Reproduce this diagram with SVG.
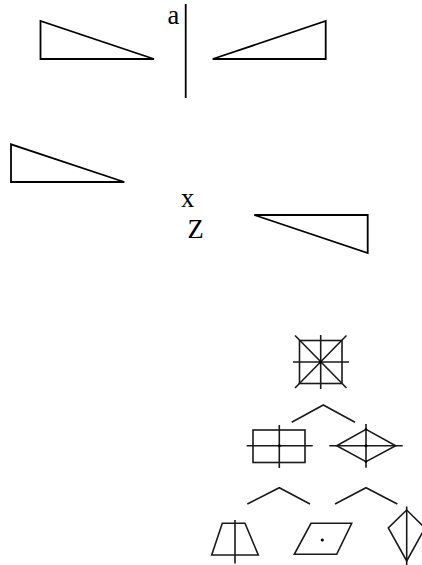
<svg xmlns="http://www.w3.org/2000/svg" width="422" height="565" viewBox="0 0 422 565">
<style>
.t{fill:none;stroke:#000;stroke-width:1.8;stroke-linejoin:miter}
.g{fill:none;stroke:#1a1a1a;stroke-width:1.6;stroke-linejoin:miter}
.lbl{font-family:"Liberation Serif","Times New Roman",serif;font-size:26.5px;fill:#000}
.d{fill:#000}
</style>
<rect width="422" height="565" fill="#fff"/>
<g id="tri1"><polygon class="t" points="40.5,21 40.5,59 154,59"/></g>
<g id="axis"><line class="t" x1="185.7" y1="4" x2="185.7" y2="98"/></g>
<g id="label-a"><text class="lbl" x="167.5" y="23.5">a</text></g>
<g id="tri2"><polygon class="t" points="212.7,59 325.7,21 325.7,59"/></g>
<g id="tri3"><polygon class="t" points="11,144.3 11,182 124.3,182"/></g>
<g id="label-x"><text class="lbl" x="181" y="206.5">x</text></g>
<g id="label-Z"><text class="lbl" x="187.5" y="237.7">Z</text></g>
<g id="tri4"><polygon class="t" points="254.3,215 367.7,215 367.7,253"/></g>
<g id="square">
<rect class="g" x="299.5" y="340.5" width="42.5" height="43"/>
<line class="g" x1="320.7" y1="335" x2="320.7" y2="389"/>
<line class="g" x1="293" y1="362" x2="349" y2="362"/>
<line class="g" x1="295" y1="335.5" x2="346.5" y2="388"/>
<line class="g" x1="346.5" y1="335.5" x2="295" y2="388"/>
<circle class="d" cx="320.7" cy="362" r="1.6"/>
</g>
<g id="connectors">
<polyline class="g" points="291.7,422.3 323.3,405 355,422.3"/>
<polyline class="g" points="247.3,504 279.3,487.7 310,504"/>
<polyline class="g" points="335,504 366,487.7 397.3,504"/>
</g>
<g id="rect">
<rect class="g" x="253" y="430" width="52" height="32.5"/>
<line class="g" x1="279.3" y1="425" x2="279.3" y2="468"/>
<line class="g" x1="246.7" y1="445.8" x2="312.7" y2="445.8"/>
<circle class="d" cx="279.3" cy="445.8" r="1.5"/>
</g>
<g id="rhombus">
<polygon class="g" points="336.7,445.8 366,429.3 395.7,445.8 366,461.7"/>
<line class="g" x1="329.3" y1="445.8" x2="402.7" y2="445.8"/>
<line class="g" x1="366" y1="424" x2="366" y2="467.7"/>
<circle class="d" cx="366" cy="445.8" r="1.5"/>
<circle class="d" cx="366" cy="429.3" r="1.2"/>
<circle class="d" cx="366" cy="461.7" r="1.2"/>
</g>
<g id="trapezoid">
<polygon class="g" points="222.3,523.3 245,523.3 258.3,555 211.7,555"/>
<line class="g" x1="235" y1="520" x2="235" y2="563.5"/>
</g>
<g id="parallelogram">
<polygon class="g" points="311,523.3 351.7,523.3 336.7,554.3 294.3,554.3"/>
<circle class="d" cx="322.3" cy="540" r="1.6"/>
</g>
<g id="kite">
<polygon class="g" points="406.7,510 388.3,528 406.7,561 425,528"/>
<line class="g" x1="406.7" y1="506.5" x2="406.7" y2="566"/>
</g>
</svg>
